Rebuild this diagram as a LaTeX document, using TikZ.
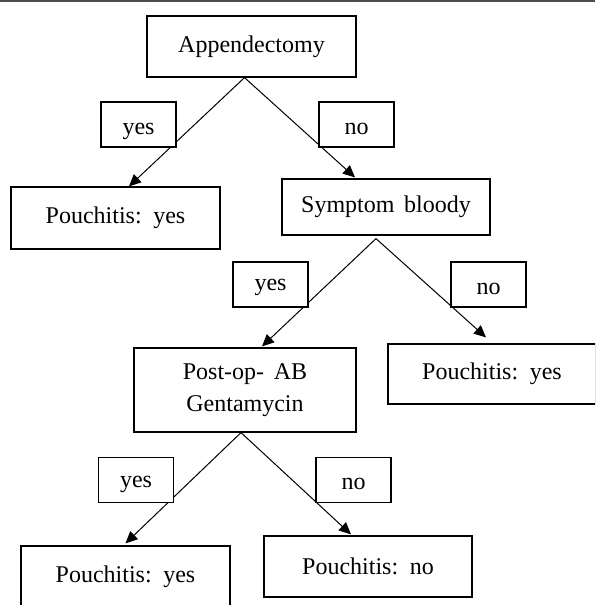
\documentclass[tikz,border=0pt]{standalone}
\usepackage{fontspec}
\setmainfont{Liberation Serif}[WordSpace=1.6]
\usetikzlibrary{arrows.meta}
\tikzset{
  decision/.style={draw,line width=1.2pt,minimum width=208pt,minimum height=61pt,inner sep=0pt,align=center},
  answer/.style={draw,fill=white,line width=1.2pt,minimum width=75pt,minimum height=45pt,inner sep=0pt,text height=14pt,text depth=0pt},
  branch/.style={-{Triangle[length=12pt,width=11pt]},line width=1pt}
}
\begin{document}
\begin{tikzpicture}[x=1pt,y=-1pt,font=\fontsize{24}{32}\selectfont]
  \useasboundingbox (0,0) rectangle (595,605);
  \clip (0,0) rectangle (595,605);
  \draw[gray!60!black,line width=2pt] (0,0.5) -- (595,0.5);
  % decisions and outcomes
  \node[decision,minimum width=209pt] (app) at (251.5,46.5) {Appendectomy};
  \node[decision,minimum width=209pt,minimum height=62pt] (pouchA) at (115.5,218) {Pouchitis: yes};
  \node[decision,minimum height=56pt] (sym) at (386,207) {Symptom bloody};
  \node[decision,minimum width=222pt,minimum height=84pt] (post) at (245,390) {Post-op- AB\\Gentamycin};
  \node[decision,minimum height=60pt] (pouchB) at (492,374) {Pouchitis: yes};
  \node[decision,minimum width=209pt] (pouchC) at (125.5,576.5) {Pouchitis: yes};
  \node[decision] (pouchD) at (368,566.5) {Pouchitis: no};
  % branches
  \draw[branch] ([xshift=-7pt]app.south) -- ([xshift=13.5pt]pouchA.north);
  \draw[branch] ([xshift=-7pt]app.south) -- ([xshift=-31pt,yshift=1pt]sym.north);
  \draw[branch] ([xshift=-10pt,yshift=-3pt]sym.south) -- ([xshift=17pt,yshift=1pt]post.north);
  \draw[branch] ([xshift=-10pt,yshift=-3pt]sym.south) -- ([xshift=-6pt,yshift=6pt]pouchB.north);
  \draw[branch] ([xshift=-4pt]post.south) -- ([yshift=2pt]pouchC.north);
  \draw[branch] ([xshift=-4pt]post.south) -- ([xshift=-17pt,yshift=1pt]pouchD.north);
  % answers on the branches
  \node[answer,text height=20pt] (yesA) at (138.5,124.5) {yes};
  \node[answer,text height=20pt] (noA) at (356.5,124.5) {no};
  \node[answer,text height=11pt] (yesB) at (270.5,284.5) {yes};
  \node[answer,text height=20pt] (noB) at (488.5,284.5) {no};
  \node[answer] (yesC) at (136,480) {yes};
  \node[answer,text height=19pt] (noC) at (353.5,480) {no};
\end{tikzpicture}
\end{document}
